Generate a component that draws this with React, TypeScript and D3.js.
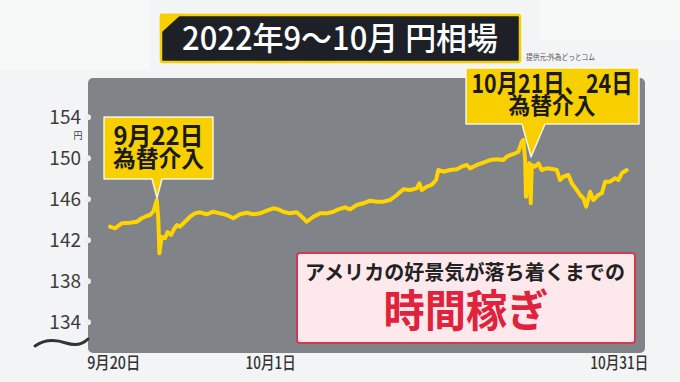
import React from "react";
import * as d3 from "d3";

// Y axis ticks (yen per dollar)
const yTicks = [134, 138, 142, 146, 150, 154];
// X axis ticks: position in trading days since 9/20 (centre of the day) and their labels
const xTickDays = [0.5, 9.5, 29.5];
const xTickLabels = ["9月20日", "10月1日", "10月31日"];

// USD/JPY series: time in trading days since 9/20 open, rate in yen
const seriesDay = [
  0.29, 0.57, 0.96, 1.43, 1.82, 2.11, 2.39, 2.58, 2.77, 2.97,
  3.06, 3.12, 3.25, 3.44, 3.59, 3.79, 3.96, 4.13, 4.3, 4.59,
  4.88, 5.16, 5.45, 5.83, 6.21, 6.6, 6.98, 7.36, 7.75, 8.13,
  8.51, 8.89, 9.28, 9.66, 9.94, 10.23, 10.61, 11.0, 11.29, 11.57,
  11.95, 12.34, 12.72, 13.1, 13.38, 13.77, 14.06, 14.44, 14.82, 15.2,
  15.59, 15.97, 16.35, 16.74, 17.11, 17.5, 17.88, 18.03, 18.17, 18.46,
  18.74, 18.99, 19.12, 19.41, 19.79, 20.18, 20.46, 20.75, 20.94, 21.33,
  21.7, 22.09, 22.47, 22.85, 23.05, 23.24, 23.52, 23.71, 23.91, 24.0,
  24.1, 24.15, 24.28, 24.34, 24.42, 24.48, 24.67, 24.86, 25.05, 25.34,
  25.72, 25.92, 26.1, 26.29, 26.58, 26.78, 27.06, 27.25, 27.44, 27.6,
  27.83, 28.01, 28.3, 28.5, 28.69, 28.97, 29.26, 29.45, 29.64, 29.93,
];
const seriesRate = [
  143.33, 143.17, 143.66, 143.72, 143.81, 144.15, 144.37, 144.47, 144.79, 145.93,
  143.98, 140.73, 142.35, 142.2, 142.81, 142.52, 143.1, 143.49, 143.33, 143.81,
  144.3, 144.63, 144.73, 144.54, 144.79, 144.63, 144.47, 144.15, 144.54, 144.69,
  144.54, 144.63, 144.89, 145.12, 145.02, 144.79, 144.63, 144.73, 144.3, 143.81,
  144.3, 144.63, 144.63, 144.79, 145.02, 145.22, 145.02, 145.44, 145.61, 145.86,
  145.77, 145.77, 145.93, 146.42, 146.98, 146.91, 147.07, 147.56, 146.91, 147.23,
  147.4, 147.88, 148.86, 148.69, 148.86, 148.93, 149.18, 149.35, 149.02, 149.35,
  149.57, 149.83, 149.9, 149.83, 150.16, 150.32, 150.49, 150.64, 151.62, 151.79,
  149.83, 146.25, 148.86, 149.51, 145.61, 149.35, 149.18, 149.51, 148.86, 149.02,
  148.93, 148.86, 147.88, 148.2, 148.37, 147.56, 146.91, 146.42, 146.1, 145.28,
  146.74, 145.93, 146.42, 146.59, 147.72, 147.72, 148.05, 147.88, 148.54, 148.86,
];

const FONT = '"Noto Sans CJK JP", "Noto Sans", sans-serif';
const YELLOW = "#F8D000";

export default function App() {
  const x = d3.scaleLinear().domain([0, 30]).range([105, 628]);
  const y = d3.scaleLinear().domain([134, 154]).range([322.3, 117.3]);
  const pts: [number, number][] = seriesDay.map((d, i) => [d, seriesRate[i]]);
  const line = d3
    .line<[number, number]>()
    .x((d) => x(d[0]))
    .y((d) => y(d[1]));

  return (
    <svg
      width={680}
      height={382}
      style={{ position: "absolute", left: 0, top: 0, fontFamily: FONT }}
    >
      <rect x={0} y={0} width={680} height={382} fill="#f2f4f5" />
      <polygon points="0,0 150,0 150,70 0,70" fill="#fafbfb" opacity={0.7} />
      <polygon points="540,0 680,0 680,40 540,40" fill="#fafbfb" opacity={0.6} />

      {/* panel */}
      <rect x={88} y={78} width={557} height={275} rx={5} fill="#808387" />

      {/* y axis */}
      {yTicks.map((t) => (
        <g key={t}>
          <text
            x={81}
            y={y(t)}
            dy="0.36em"
            textAnchor="end"
            fontSize={19}
            fill="#3c3c3c"
          >
            {t}
          </text>
          <circle cx={88} cy={y(t)} r={3} fill="#eeeeee" />
        </g>
      ))}
      <text x={78} y={138.5} textAnchor="middle" fontSize={9} fill="#3c3c3c">
        円
      </text>
      <path
        d="M35,346 C45,339 57,340 66,343 C75,346 82,345 88,339"
        stroke="#333"
        strokeWidth={3}
        fill="none"
        strokeLinecap="round"
      />

      {/* x axis labels */}
      {xTickDays.map((d, i) => (
        <text
          key={i}
          x={x(d)}
          y={369}
          textAnchor="middle"
          fontSize={17}
          fontWeight={500}
          fill="#333"
          textLength={[53, 50, 58][i]}
          lengthAdjust="spacingAndGlyphs"
        >
          {xTickLabels[i]}
        </text>
      ))}

      {/* line */}
      <path
        d={line(pts) || ""}
        fill="none"
        stroke="#FFD400"
        strokeWidth={4}
        strokeLinejoin="round"
        strokeLinecap="round"
      />

      {/* title */}
      <rect x={161} y={15} width={359} height={47} rx={2} fill="#1d2127" stroke={YELLOW} strokeWidth={2.5} />
      <path d="M159.8,13.8 L182,13.8 L159.8,34 Z" fill={YELLOW} />
      <text
        x={340}
        y={50}
        textAnchor="middle"
        fontSize={32}
        fontWeight={500}
        fill="#fff"
        textLength={316}
        lengthAdjust="spacingAndGlyphs"
      >
        2022年9〜10月 円相場
      </text>
      <text x={526} y={60} fontSize={7.5} fill="#555" textLength={69} lengthAdjust="spacingAndGlyphs">
        提供元:外為どっとコム
      </text>

      {/* callout 1 */}
      <path
        d="M104,117 H213 V179 H162 L157,198 L152,179 H104 Z"
        fill={YELLOW}
        stroke="#fff"
        strokeOpacity={0.85}
        strokeWidth={1.5}
        strokeLinejoin="round"
      />
      <text textAnchor="middle" fontWeight={700} fill="#1a1a1a">
        <tspan x={158.5} y={145} fontSize={25} textLength={90} lengthAdjust="spacingAndGlyphs">
          9月22日
        </tspan>
        <tspan x={158.5} y={167} fontSize={23} textLength={91} lengthAdjust="spacingAndGlyphs">
          為替介入
        </tspan>
      </text>

      {/* callout 2 */}
      <path
        d="M466,68 H639 V124 H545 L531,157 L522,124 H466 Z"
        fill={YELLOW}
        stroke="#fff"
        strokeOpacity={0.85}
        strokeWidth={1.5}
        strokeLinejoin="round"
      />
      <text textAnchor="middle" fontWeight={700} fill="#1a1a1a">
        <tspan x={552} y={93} fontSize={26} textLength={161} lengthAdjust="spacingAndGlyphs">
          10月21日、24日
        </tspan>
        <tspan x={552} y={114} fontSize={23} textLength={87} lengthAdjust="spacingAndGlyphs">
          為替介入
        </tspan>
      </text>

      {/* message box */}
      <rect x={297} y={253} width={338} height={90} rx={3} fill="#fde9eb" stroke="#d23a52" strokeWidth={2} />
      <text textAnchor="middle" fontWeight={700}>
        <tspan x={465} y={280} fontSize={20} fill="#222" textLength={320} lengthAdjust="spacingAndGlyphs">
          アメリカの好景気が落ち着くまでの
        </tspan>
        <tspan x={466} y={327} fontSize={44} fill="#e0223c" textLength={165} lengthAdjust="spacingAndGlyphs">
          時間稼ぎ
        </tspan>
      </text>
    </svg>
  );
}
